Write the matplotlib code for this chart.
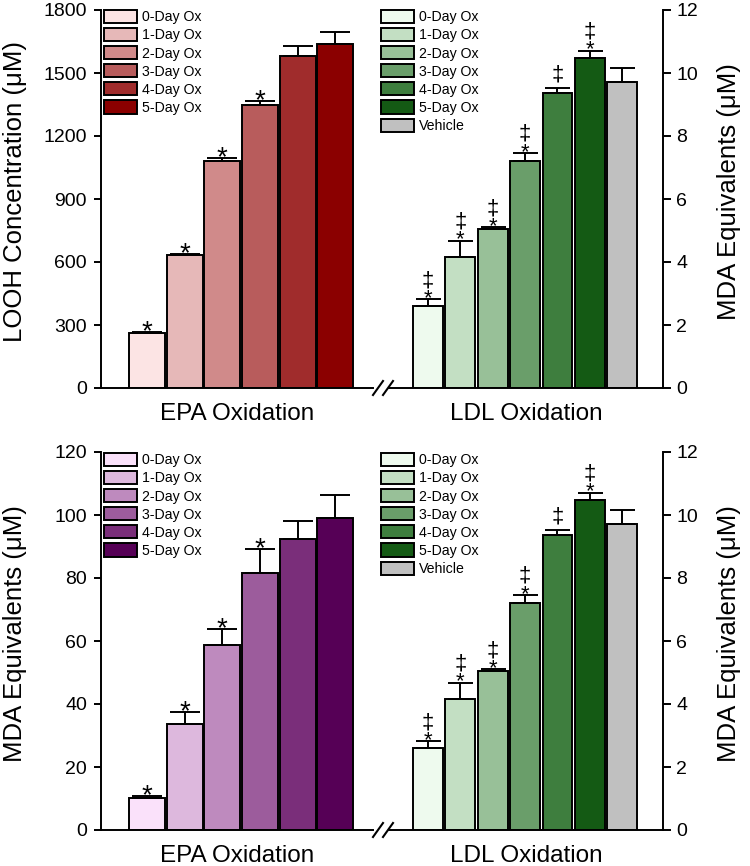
import matplotlib
matplotlib.use('Agg')
import matplotlib.pyplot as plt
import numpy as np
from matplotlib.lines import Line2D

plt.rcParams['font.family'] = ['Liberation Sans', 'DejaVu Sans']

# ---- data ----
days = ['0-Day Ox', '1-Day Ox', '2-Day Ox', '3-Day Ox', '4-Day Ox', '5-Day Ox']
ldl_groups = days + ['Vehicle']

epa_looh = [264, 635, 1079, 1349, 1579, 1640]
epa_looh_err = [4, 5, 17, 19, 48, 54]

epa_mda = [10.2, 33.8, 58.7, 81.5, 92.4, 99.0]
epa_mda_err = [0.6, 3.6, 5.2, 7.7, 5.8, 7.2]

ldl_mda = [2.60, 4.17, 5.05, 7.21, 9.36, 10.47, 9.73]
ldl_mda_err = [0.21, 0.50, 0.05, 0.25, 0.16, 0.23, 0.43]

# significance marks: * vs 0-day (EPA) / ‡ vs vehicle (LDL)
epa_star = [1, 1, 1, 1, 0, 0]
ldl_star = [1, 1, 1, 1, 0, 1, 0]
ldl_dagger = [1, 1, 1, 1, 1, 1, 0]

reds = ['#fce4e4', '#e6b8b8', '#d08a8a', '#b85c5c', '#a02c2c', '#8b0000']
purples = ['#fae1fa', '#ddb8dd', '#be8abe', '#9c5c9c', '#7a2e7a', '#560056']
greens = ['#eefaee', '#c3dfc3', '#98c098', '#6a9e6a', '#3e7e3e', '#145a14',
          '#c0c0c0']

W, H = 750, 866
fig = plt.figure(figsize=(W / 100, H / 100), dpi=100)


def px_box(left, top, right, bottom):
    return [left / W, 1 - bottom / H, (right - left) / W, (bottom - top) / H]


def add_marks(ax, x, tops, stars, daggers=None):
    for i, top in enumerate(tops):
        dag = daggers is not None and daggers[i]
        if stars[i] and dag:
            ax.annotate('\u2021\n*', (x[i], top), xytext=(0, -7),
                        textcoords='offset points', ha='center',
                        va='bottom', fontsize=16, linespacing=0.8)
        elif stars[i]:
            ax.annotate('*', (x[i], top), xytext=(0, -5.3),
                        textcoords='offset points', ha='center',
                        va='baseline', fontsize=20)
        elif dag:
            ax.annotate('\u2021', (x[i], top), xytext=(0, 2),
                        textcoords='offset points', ha='center',
                        va='bottom', fontsize=16)


def legend_at(ax, handles, labels, left_px, top_px):
    ax.legend(handles, labels, loc='upper left',
              bbox_to_anchor=(left_px / W, 1 - top_px / H),
              bbox_transform=fig.transFigure, frameon=False,
              fontsize=10.2, handlelength=2.3, handleheight=1.05,
              labelspacing=0.26, handletextpad=0.35, borderpad=0,
              borderaxespad=0)


def epa_panel(box, values, errors, colors, ylabel, ymax, step, legend_top):
    ax = fig.add_axes(box)
    x = np.arange(len(values))
    bars = ax.bar(x, values, width=0.95, color=colors, edgecolor='black',
                  linewidth=1.4)
    ax.errorbar(x, values, yerr=[np.zeros(len(values)), errors], fmt='none',
                ecolor='black', elinewidth=1.4, capsize=11, capthick=1.4)
    add_marks(ax, x, np.add(values, errors), epa_star)
    ax.set_xlim(-1.22, 6.0)
    ax.set_ylim(0, ymax)
    ax.set_yticks(np.arange(0, ymax + 1, step))
    ax.set_xticks([])
    for s in ['top', 'right']:
        ax.spines[s].set_visible(False)
    for s in ['left', 'bottom']:
        ax.spines[s].set_linewidth(1.4)
    ax.tick_params(axis='y', direction='out', length=5, width=1.4, pad=5,
                   labelsize=14)
    ax.set_ylabel(ylabel, fontsize=18.5)
    ax.yaxis.set_label_coords(-0.271, 0.52)
    ax.set_xlabel('EPA Oxidation', fontsize=17.5)
    ax.xaxis.set_label_coords(0.5, -0.04)
    legend_at(ax, bars.patches, days, 104, legend_top)
    return ax


def ldl_panel(box, legend_top):
    ax = fig.add_axes(box)
    x = np.arange(len(ldl_mda))
    bars = ax.bar(x, ldl_mda, width=0.92, color=greens, edgecolor='black',
                  linewidth=1.4)
    ax.errorbar(x, ldl_mda, yerr=[np.zeros(len(ldl_mda)), ldl_mda_err],
                fmt='none', ecolor='black', elinewidth=1.4, capsize=9,
                capthick=1.4)
    add_marks(ax, x, np.add(ldl_mda, ldl_mda_err), ldl_star, ldl_dagger)
    ax.set_xlim(-1.2, 7.26)
    ax.set_ylim(0, 12)
    ax.set_yticks(np.arange(0, 13, 2))
    ax.set_xticks([])
    ax.yaxis.tick_right()
    ax.yaxis.set_label_position('right')
    for s in ['top', 'left']:
        ax.spines[s].set_visible(False)
    for s in ['right', 'bottom']:
        ax.spines[s].set_linewidth(1.4)
    ax.tick_params(axis='y', direction='out', length=6, width=1.4, pad=3.5,
                   labelsize=14)
    ax.set_ylabel('MDA Equivalents (\u03bcM)', fontsize=18.5)
    ax.yaxis.set_label_coords(1.198, 0.52)
    ax.set_xlabel('LDL Oxidation', fontsize=17.5)
    ax.xaxis.set_label_coords(0.5, -0.04)
    legend_at(ax, bars.patches, ldl_groups, 381, legend_top)
    return ax


def axis_break(y_px):
    # the "//" marks between the EPA and LDL halves of the x axis
    for xc in (378, 388):
        fig.add_artist(Line2D([(xc - 5) / W, (xc + 5) / W],
                              [1 - (y_px + 7) / H, 1 - (y_px - 7) / H],
                              color='black', linewidth=1.5,
                              transform=fig.transFigure))


# top row
epa_panel(px_box(101, 10, 373, 388), epa_looh, epa_looh_err, reds,
          'LOOH Concentration (\u03bcM)', 1800, 300, 10)
ldl_panel(px_box(389, 10, 663, 388), 10)
axis_break(388)

# bottom row
epa_panel(px_box(101, 452, 373, 830), epa_mda, epa_mda_err, purples,
          'MDA Equivalents (\u03bcM)', 120, 20, 453)
ldl_panel(px_box(389, 452, 663, 830), 453)
axis_break(830)

fig.savefig('out.png', dpi=100)
